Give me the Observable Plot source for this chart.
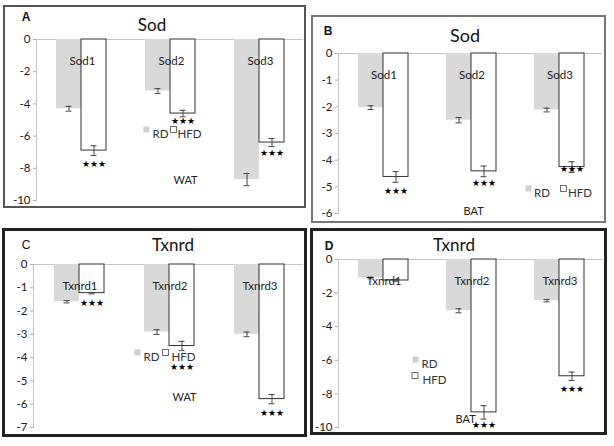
<!DOCTYPE html>
<html><head><meta charset="utf-8">
<script src="https://cdn.jsdelivr.net/npm/d3@7"></script>
<script src="https://cdn.jsdelivr.net/npm/@observablehq/plot@0.6"></script>
<style>
body{margin:0;background:#fff;}
#fig{position:relative;width:614px;height:446px;overflow:hidden;background:#fff;font-family:Lato,"Open Sans",sans-serif;}
.box{position:absolute;box-sizing:border-box;}
.title{position:absolute;transform:translate(-50%,-50%);font-size:17px;color:#111;white-space:nowrap;line-height:1;}
.letter{position:absolute;transform:translate(-50%,-50%);font:bold 12px "Liberation Sans",Arial,sans-serif;color:#111;line-height:1;}
.plot{position:absolute;}
</style></head><body><div id="fig"></div>
<script>
// ---------- data ----------
const groups = ["RD", "HFD"];
const sodGenes = ["Sod1", "Sod2", "Sod3"];
const txnrdGenes = ["Txnrd1", "Txnrd2", "Txnrd3"];

// A: Sod, WAT
const sodWatRD = [-4.3, -3.2, -8.7];
const sodWatRDErr = [0.15, 0.15, 0.38];
const sodWatHFD = [-6.9, -4.6, -6.4];
const sodWatHFDErr = [0.3, 0.2, 0.25];
const sodWatSig = ["★★★", "★★★", "★★★"];
const sodWatTicks = [0, -2, -4, -6, -8, -10];

// B: Sod, BAT
const sodBatRD = [-2.03, -2.5, -2.12];
const sodBatRDErr = [0.07, 0.1, 0.07];
const sodBatHFD = [-4.63, -4.42, -4.26];
const sodBatHFDErr = [0.2, 0.2, 0.2];
const sodBatSig = ["★★★", "★★★", "★★★"];
const sodBatTicks = [0, -1, -2, -3, -4, -5, -6];

// C: Txnrd, WAT
const txnrdWatRD = [-1.6, -2.9, -3.0];
const txnrdWatRDErr = [0.05, 0.1, 0.1];
const txnrdWatHFD = [-1.23, -3.5, -5.78];
const txnrdWatHFDErr = [0.03, 0.2, 0.2];
const txnrdWatSig = ["★★★", "★★★", "★★★"];
const txnrdWatTicks = [0, -1, -2, -3, -4, -5, -6, -7];

// D: Txnrd, BAT
const txnrdBatRD = [-1.1, -3.05, -2.45];
const txnrdBatRDErr = [0.05, 0.12, 0.07];
const txnrdBatHFD = [-1.25, -9.1, -6.95];
const txnrdBatHFDErr = [0.05, 0.4, 0.25];
const txnrdBatSig = ["", "★★★", "★★★"];
const txnrdBatTicks = [0, -2, -4, -6, -8, -10];

// ---------- drawing ----------
const fig = document.getElementById("fig");

function rowsOf(genes, rd, rdErr, hfd, hfdErr, sig) {
  return genes.flatMap((g, i) => [
    {gene: g, i, group: "RD", value: rd[i], err: rdErr[i], sig: ""},
    {gene: g, i, group: "HFD", value: hfd[i], err: hfdErr[i], sig: sig[i]}
  ]);
}

function panel(cfg) {
  const {box, border, title, titlePos, titleSize, letter, letterPos, letterWeight,
         genes, rows, ticks, yMin, axisX, rightX, y0, yBot, legend, tissue, starDy} = cfg;
  const b = document.createElement("div");
  b.className = "box";
  Object.assign(b.style, {left: box[0] + "px", top: box[1] + "px",
    width: (box[2] - box[0]) + "px", height: (box[3] - box[1]) + "px", border});
  fig.appendChild(b);

  const ML = 36, MR = 2, MT = 8, MB = 8;
  const width = ML + (rightX - axisX) + MR;
  const height = MT + (yBot - y0) + MB;
  const lo = d => d.value - d.err, hi = d => d.value + d.err;
  const one = [legend.fx];

  const starMarks = rows.filter(d => d.sig).map(r =>
    Plot.text([r], {fx: "gene", x: "group", y: lo, text: "sig", dy: starDy[r.i], fontSize: 9, fill: "#000", fontFamily: "DejaVu Sans"}));

  const marks = [
    Plot.ruleY([0], {stroke: "#c4c4c4"}),
    Plot.frame({anchor: "left", facetAnchor: "left", stroke: "#c4c4c4"}),
    Plot.barY(rows.filter(d => d.group === "RD"), {fx: "gene", x: "group", y: "value", fill: "#d9d9d9"}),
    Plot.barY(rows.filter(d => d.group === "HFD"), {fx: "gene", x: "group", y: "value", fill: "#fff", stroke: "#333", strokeWidth: 1}),
    Plot.ruleX(rows, {fx: "gene", x: "group", y1: lo, y2: hi, stroke: "#444"}),
    Plot.tickY(rows, {fx: "gene", x: "group", y: lo, insetLeft: 9.5, insetRight: 9.5, stroke: "#444"}),
    Plot.tickY(rows, {fx: "gene", x: "group", y: hi, insetLeft: 9.5, insetRight: 9.5, stroke: "#444"}),
    ...starMarks,
    Plot.text(genes, {fx: d => d, text: d => d, frameAnchor: "top", dy: 17, dx: 1.5, fill: "#222"}),
    Plot.axisY({ticks, label: null, tickSize: 3, tickPadding: 3, tickFormat: d => String(d), stroke: "#b0b0b0", fill: "#222"}),
    // legend
    Plot.dot(one, {fx: d => d, frameAnchor: "top-left", dx: legend.rd[0], dy: legend.rd[1], symbol: "square", r: 3.4, fill: "#d0d0d0"}),
    Plot.text(one, {fx: d => d, frameAnchor: "top-left", dx: legend.rd[2], dy: legend.rd[1], text: () => "RD", textAnchor: "start", fill: "#333"}),
    Plot.dot(one, {fx: d => d, frameAnchor: "top-left", dx: legend.hfd[0], dy: legend.hfd[1], symbol: "square", r: 3.4, fill: "#fff", stroke: "#444", strokeWidth: 0.8}),
    Plot.text(one, {fx: d => d, frameAnchor: "top-left", dx: legend.hfd[2], dy: legend.hfd[1], text: () => "HFD", textAnchor: "start", fill: "#333"}),
    // tissue label
    Plot.text([tissue.fx], {fx: d => d, frameAnchor: "top-left", dx: tissue.dx, dy: tissue.dy, text: () => tissue.text, fill: "#222", fontSize: 11})
  ];

  const svg = Plot.plot({
    width, height,
    marginLeft: ML, marginRight: MR, marginTop: MT, marginBottom: MB,
    style: {fontFamily: "Lato, 'Open Sans', sans-serif", fontSize: "11.5px", background: "transparent", overflow: "visible"},
    fx: {domain: genes, padding: 0, axis: null},
    x: {domain: groups, paddingInner: 0, paddingOuter: 0.75, align: 0.52, axis: null},
    y: {domain: [yMin, 0], axis: null},
    marks
  });
  svg.classList.add("plot");
  svg.style.left = (axisX - ML) + "px";
  svg.style.top = (y0 - MT) + "px";
  fig.appendChild(svg);

  const t = document.createElement("div");
  t.className = "title"; t.textContent = title;
  Object.assign(t.style, {left: titlePos[0] + "px", top: titlePos[1] + "px", fontSize: titleSize + "px"});
  fig.appendChild(t);
  const l = document.createElement("div");
  l.className = "letter"; l.textContent = letter;
  Object.assign(l.style, {left: letterPos[0] + "px", top: letterPos[1] + "px", fontWeight: letterWeight});
  fig.appendChild(l);
}

panel({
  box: [3, 5, 306, 208], border: "2px solid #555",
  title: "Sod", titlePos: [152, 24], titleSize: 17, letter: "A", letterPos: [26, 17], letterWeight: "bold",
  genes: sodGenes, rows: rowsOf(sodGenes, sodWatRD, sodWatRDErr, sodWatHFD, sodWatHFDErr, sodWatSig),
  ticks: sodWatTicks, yMin: -10, axisX: 35, rightX: 303, y0: 39, yBot: 200,
  legend: {fx: "Sod2", rd: [21, 90, 27], hfd: [48, 90, 52]},
  tissue: {fx: "Sod2", dx: 48, dy: 137, text: "WAT"},
  starDy: [9, 4, 7]
});
panel({
  box: [311, 15, 606, 223], border: "2px solid #777",
  title: "Sod", titlePos: [465, 35], titleSize: 18, letter: "B", letterPos: [328, 31], letterWeight: "bold",
  genes: sodGenes, rows: rowsOf(sodGenes, sodBatRD, sodBatRDErr, sodBatHFD, sodBatHFDErr, sodBatSig),
  ticks: sodBatTicks, yMin: -6, axisX: 337, rightX: 602, y0: 53, yBot: 213,
  legend: {fx: "Sod3", rd: [14, 135, 19.5], hfd: [49, 135, 53.5]},
  tissue: {fx: "Sod2", dx: 37, dy: 154, text: "BAT"},
  starDy: [9, 6, -3]
});
panel({
  box: [2, 228, 307, 437], border: "3px solid #222",
  title: "Txnrd", titlePos: [173, 244], titleSize: 17, letter: "C", letterPos: [26, 245], letterWeight: "normal",
  genes: txnrdGenes, rows: rowsOf(txnrdGenes, txnrdWatRD, txnrdWatRDErr, txnrdWatHFD, txnrdWatHFDErr, txnrdWatSig),
  ticks: txnrdWatTicks, yMin: -7, axisX: 32, rightX: 303, y0: 264, yBot: 427,
  legend: {fx: "Txnrd2", rd: [14, 88, 20], hfd: [42, 88, 48]},
  tissue: {fx: "Txnrd2", dx: 49, dy: 129, text: "WAT"},
  starDy: [9, 16, 9]
});
panel({
  box: [310, 228, 607, 435], border: "3px solid #222",
  title: "Txnrd", titlePos: [454, 244], titleSize: 17, letter: "D", letterPos: [329, 246], letterWeight: "bold",
  genes: txnrdGenes, rows: rowsOf(txnrdGenes, txnrdBatRD, txnrdBatRDErr, txnrdBatHFD, txnrdBatHFDErr, txnrdBatSig),
  ticks: txnrdBatTicks, yMin: -10, axisX: 337, rightX: 603, y0: 259, yBot: 427,
  legend: {fx: "Txnrd1", rd: [77, 100, 83], hfd: [76.5, 116, 84]},
  tissue: {fx: "Txnrd2", dx: 29, dy: 156, text: "BAT"},
  starDy: [0, 6, 9]
});
</script></body></html>
